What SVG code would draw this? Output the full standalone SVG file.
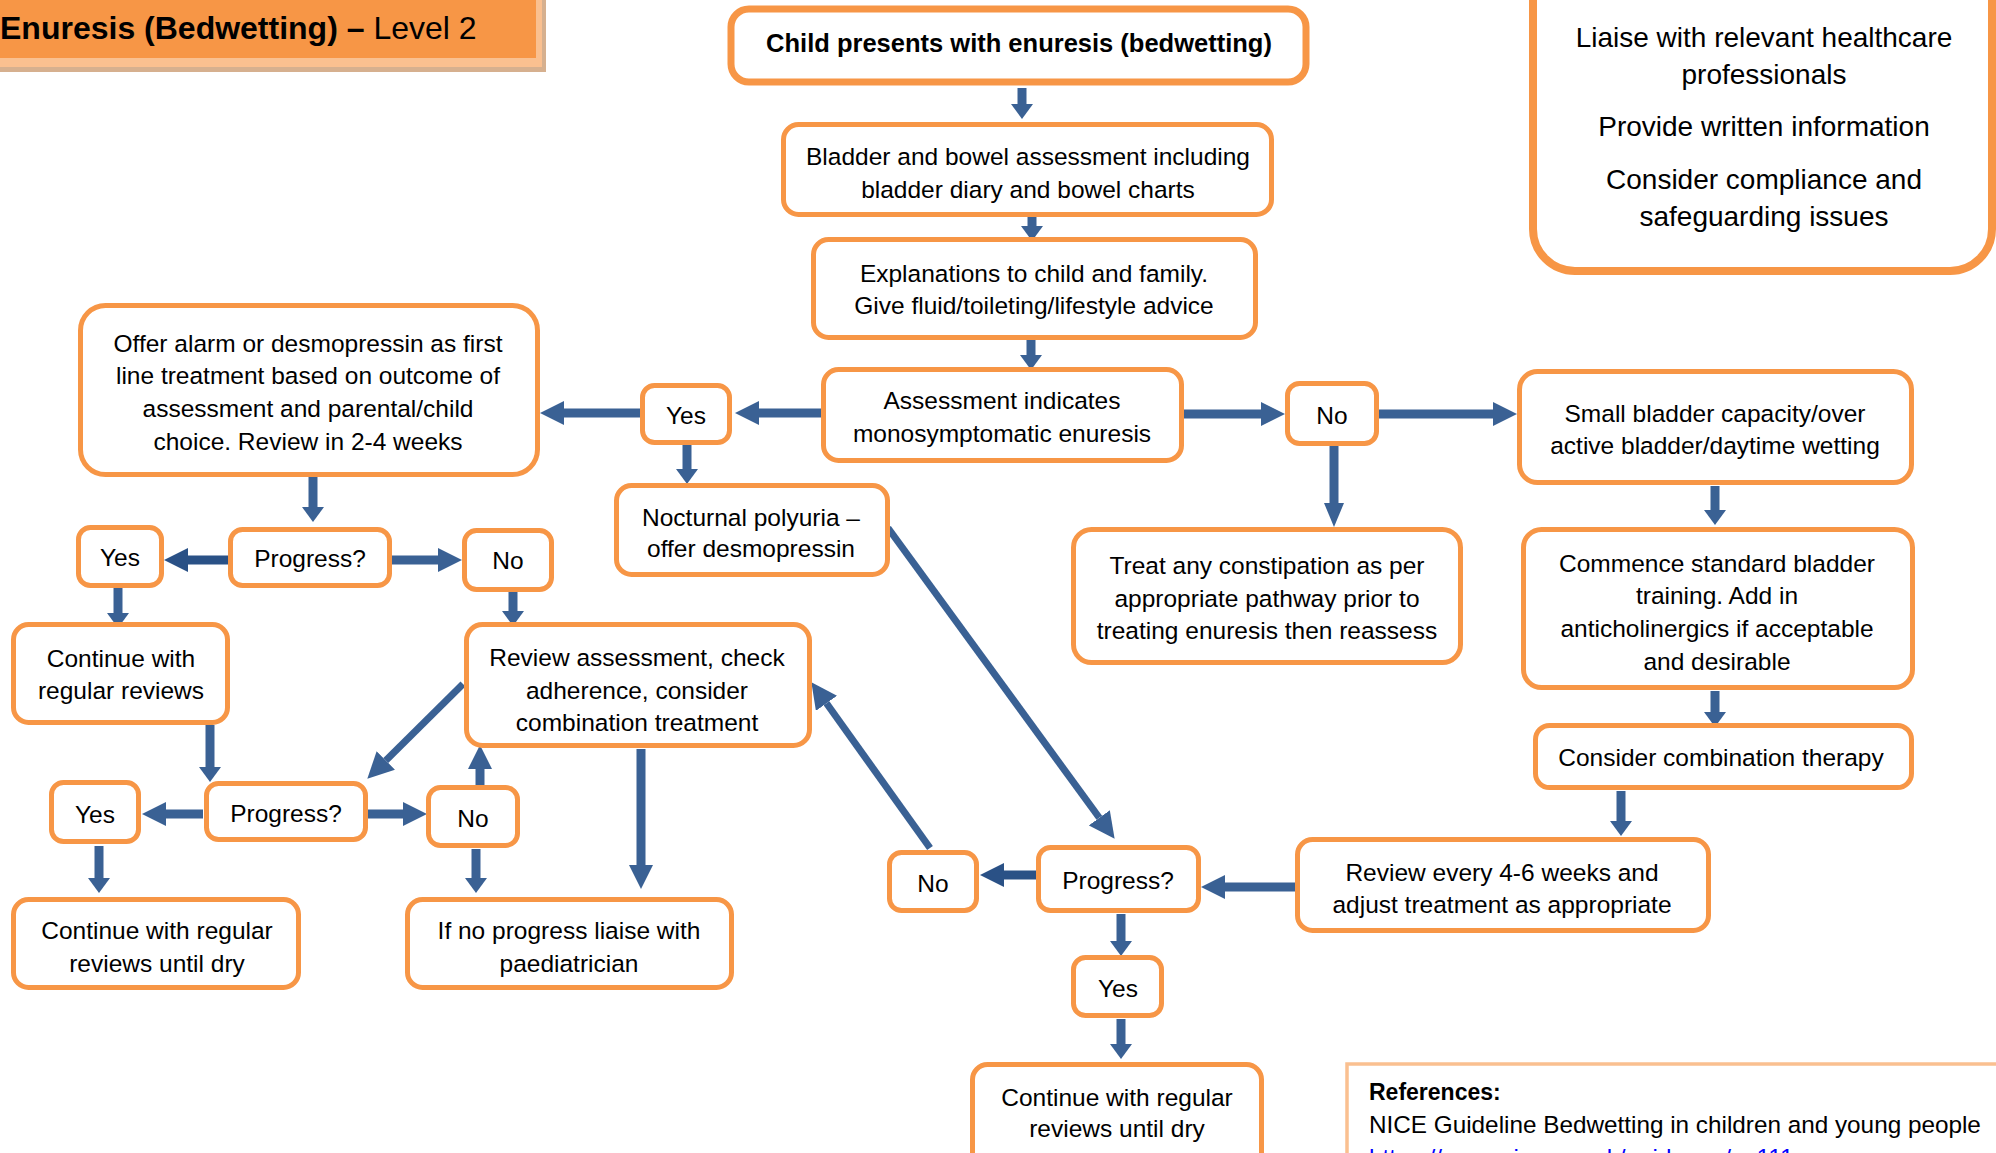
<svg xmlns="http://www.w3.org/2000/svg" width="1996" height="1153" viewBox="0 0 1996 1153">
<style>
.box{fill:#fff;stroke:#F79646;stroke-width:5}
.t{font-family:"Liberation Sans",Arial,sans-serif;font-size:24.5px;fill:#000;text-anchor:middle}
.tb{font-family:"Liberation Sans",Arial,sans-serif;font-size:25.5px;font-weight:bold;fill:#000;text-anchor:middle}
.tn{font-family:"Liberation Sans",Arial,sans-serif;font-size:28px;fill:#000;text-anchor:middle}
.c{fill:none;stroke:#3A6194;stroke-width:9}
.cd{fill:none;stroke:#2A5186;stroke-width:9}
.dg{fill:none;stroke:#3A6194;stroke-width:7}
</style>
<defs>
<marker id="hh" markerUnits="userSpaceOnUse" markerWidth="24" markerHeight="24" refX="0" refY="12" orient="auto"><path d="M0,0 L24,12 L0,24 z" fill="#3A6194"/></marker>
<marker id="hk" markerUnits="userSpaceOnUse" markerWidth="24" markerHeight="24" refX="0" refY="12" orient="auto"><path d="M0,0 L24,12 L0,24 z" fill="#2A5186"/></marker>
<marker id="hv" markerUnits="userSpaceOnUse" markerWidth="15" markerHeight="22" refX="0" refY="11" orient="auto"><path d="M0,0 L15,11 L0,22 z" fill="#3A6194"/></marker>
<marker id="hn" markerUnits="userSpaceOnUse" markerWidth="24" markerHeight="20" refX="0" refY="10" orient="auto"><path d="M0,0 L24,10 L0,20 z" fill="#3A6194"/></marker>
<marker id="hd" markerUnits="userSpaceOnUse" markerWidth="26" markerHeight="26" refX="0" refY="13" orient="auto"><path d="M0,0 L26,13 L0,26 z" fill="#3A6194"/></marker>
</defs>

<g id="title">
<rect x="-10" y="-10" width="556" height="82" fill="#D6B08F"/>
<rect x="-10" y="-10" width="552" height="77" fill="#FAC090"/>
<rect x="-10" y="-10" width="546" height="68" fill="#F79646"/>
<text x="0" y="39" font-family="Liberation Sans,Arial,sans-serif" font-size="32" fill="#000"><tspan font-weight="bold">Enuresis (Bedwetting) –</tspan> Level 2</text>
</g>

<g id="connectors">
<path class="c" d="M1022,88 V104" marker-end="url(#hv)"/>
<path class="c" d="M1032,215 V226" marker-end="url(#hv)"/>
<path class="c" d="M1031,340 V355" marker-end="url(#hv)"/>
<path class="c" d="M821,413 H759" marker-end="url(#hh)"/>
<path class="c" d="M640,413 H564" marker-end="url(#hh)"/>
<path class="c" d="M687,444 V469" marker-end="url(#hv)"/>
<path class="c" d="M1184,414 H1261" marker-end="url(#hh)"/>
<path class="c" d="M1379,414 H1493" marker-end="url(#hh)"/>
<path class="c" d="M1334,446 V503" marker-end="url(#hn)"/>
<path class="c" d="M1715,486 V510" marker-end="url(#hv)"/>
<path class="c" d="M1715,691 V712" marker-end="url(#hv)"/>
<path class="c" d="M1621,791 V821" marker-end="url(#hv)"/>
<path class="c" d="M1295,887 H1225" marker-end="url(#hh)"/>
<path class="cd" d="M1036,875 H1004" marker-end="url(#hk)"/>
<path class="dg" d="M930,848 L826.5,703.3" marker-end="url(#hd)"/>
<path class="dg" d="M888,528 L1099.3,817.8" marker-end="url(#hd)"/>
<path class="c" d="M1121,914 V941" marker-end="url(#hv)"/>
<path class="c" d="M1121,1019 V1044" marker-end="url(#hv)"/>
<path class="c" d="M313,477 V507" marker-end="url(#hv)"/>
<path class="cd" d="M228,560 H188" marker-end="url(#hk)"/>
<path class="c" d="M392,560 H438" marker-end="url(#hh)"/>
<path class="c" d="M118,588 V613" marker-end="url(#hv)"/>
<path class="c" d="M513,592 V611" marker-end="url(#hv)"/>
<path class="c" d="M210,725 V767" marker-end="url(#hv)"/>
<path class="dg" d="M463,684 L385.8,760.4" marker-end="url(#hd)"/>
<path class="c" d="M203,814 H166" marker-end="url(#hh)"/>
<path class="c" d="M368,814 H403" marker-end="url(#hh)"/>
<path class="c" d="M480,785 V769" marker-end="url(#hh)"/>
<path class="c" d="M641,749 V865" marker-end="url(#hh)"/>
<path class="c" d="M99,846 V878" marker-end="url(#hv)"/>
<path class="c" d="M476,849 V878" marker-end="url(#hv)"/>
</g>

<g id="n-start">
<rect x="731" y="9" width="575" height="73" rx="18" fill="#fff" stroke="#F79646" stroke-width="7"/>
<text class="tb" x="1019" y="52">Child presents with enuresis (bedwetting)</text>
</g>

<g id="n-bladder">
<rect class="box" x="783.5" y="124.5" width="488" height="90" rx="15"/>
<text class="t" x="1028" y="165">Bladder and bowel assessment including</text>
<text class="t" x="1028" y="198">bladder diary and bowel charts</text>
</g>

<g id="n-explain">
<rect class="box" x="813.5" y="239.5" width="442" height="98" rx="15"/>
<text class="t" x="1034" y="282">Explanations to child and family.</text>
<text class="t" x="1034" y="314">Give fluid/toileting/lifestyle advice</text>
</g>

<g id="n-assess">
<rect class="box" x="823.5" y="369.5" width="358" height="91" rx="15"/>
<text class="t" x="1002" y="409">Assessment indicates</text>
<text class="t" x="1002" y="442">monosymptomatic enuresis</text>
</g>

<g id="n-yes1">
<rect class="box" x="642.5" y="385.5" width="87" height="57" rx="12"/>
<text class="t" x="686" y="424">Yes</text>
</g>

<g id="n-no1">
<rect class="box" x="1287.5" y="383.5" width="89" height="60" rx="12"/>
<text class="t" x="1332" y="424">No</text>
</g>

<g id="n-offer">
<rect class="box" x="80.5" y="305.5" width="457" height="169" rx="25"/>
<text class="t" x="308" y="352">Offer alarm or desmopressin as first</text>
<text class="t" x="308" y="384">line treatment based on outcome of</text>
<text class="t" x="308" y="417">assessment and parental/child</text>
<text class="t" x="308" y="450">choice. Review in 2-4 weeks</text>
</g>

<g id="n-nocturnal">
<rect class="box" x="616.5" y="485.5" width="271" height="89" rx="15"/>
<text class="t" x="751" y="526">Nocturnal polyuria –</text>
<text class="t" x="751" y="557">offer desmopressin</text>
</g>

<g id="n-small">
<rect class="box" x="1519.5" y="371.5" width="392" height="111" rx="18"/>
<text class="t" x="1715" y="422">Small bladder capacity/over</text>
<text class="t" x="1715" y="454">active bladder/daytime wetting</text>
</g>

<g id="n-treat">
<rect class="box" x="1073.5" y="529.5" width="387" height="133" rx="18"/>
<text class="t" x="1267" y="574">Treat any constipation as per</text>
<text class="t" x="1267" y="606.5">appropriate pathway prior to</text>
<text class="t" x="1267" y="639">treating enuresis then reassess</text>
</g>

<g id="n-commence">
<rect class="box" x="1523.5" y="529.5" width="389" height="158" rx="18"/>
<text class="t" x="1717" y="572">Commence standard bladder</text>
<text class="t" x="1717" y="604">training. Add in</text>
<text class="t" x="1717" y="637">anticholinergics if acceptable</text>
<text class="t" x="1717" y="670">and desirable</text>
</g>

<g id="n-combination">
<rect class="box" x="1535.5" y="725.5" width="376" height="62" rx="14"/>
<text class="t" x="1721" y="766">Consider combination therapy</text>
</g>

<g id="n-review46">
<rect class="box" x="1297.5" y="839.5" width="411" height="91" rx="15"/>
<text class="t" x="1502" y="881">Review every 4-6 weeks and</text>
<text class="t" x="1502" y="913">adjust treatment as appropriate</text>
</g>

<g id="n-progress3">
<rect class="box" x="1038.5" y="847.5" width="160" height="63" rx="12"/>
<text class="t" x="1118" y="889">Progress?</text>
</g>

<g id="n-no4">
<rect class="box" x="889.5" y="852.5" width="87" height="58" rx="12"/>
<text class="t" x="933" y="892">No</text>
</g>

<g id="n-yes4">
<rect class="box" x="1073.5" y="957.5" width="88" height="58" rx="12"/>
<text class="t" x="1118" y="997">Yes</text>
</g>

<g id="n-continue3">
<rect class="box" x="972.5" y="1064.5" width="289" height="110" rx="15"/>
<text class="t" x="1117" y="1106">Continue with regular</text>
<text class="t" x="1117" y="1137">reviews until dry</text>
</g>

<g id="n-progress1">
<rect class="box" x="230.5" y="529.5" width="159" height="56" rx="12"/>
<text class="t" x="310" y="567">Progress?</text>
</g>

<g id="n-yes2">
<rect class="box" x="78.5" y="527.5" width="83" height="58" rx="12"/>
<text class="t" x="120" y="566">Yes</text>
</g>

<g id="n-no2">
<rect class="box" x="464.5" y="530.5" width="87" height="59" rx="12"/>
<text class="t" x="508" y="569">No</text>
</g>

<g id="n-continue1">
<rect class="box" x="13.5" y="624.5" width="214" height="98" rx="15"/>
<text class="t" x="121" y="667">Continue with</text>
<text class="t" x="121" y="699">regular reviews</text>
</g>

<g id="n-reviewassess">
<rect class="box" x="466.5" y="624.5" width="343" height="121" rx="16"/>
<text class="t" x="637" y="666">Review assessment, check</text>
<text class="t" x="637" y="698.5">adherence, consider</text>
<text class="t" x="637" y="731">combination treatment</text>
</g>

<g id="n-progress2">
<rect class="box" x="206.5" y="783.5" width="159" height="56" rx="12"/>
<text class="t" x="286" y="822">Progress?</text>
</g>

<g id="n-yes3">
<rect class="box" x="51.5" y="782.5" width="87" height="59" rx="12"/>
<text class="t" x="95" y="823">Yes</text>
</g>

<g id="n-no3">
<rect class="box" x="428.5" y="787.5" width="89" height="58" rx="12"/>
<text class="t" x="473" y="827">No</text>
</g>

<g id="n-continue2">
<rect class="box" x="13.5" y="899.5" width="285" height="88" rx="15"/>
<text class="t" x="157" y="939">Continue with regular</text>
<text class="t" x="157" y="972">reviews until dry</text>
</g>

<g id="n-paediatrician">
<rect class="box" x="407.5" y="899.5" width="324" height="88" rx="15"/>
<text class="t" x="569" y="939">If no progress liaise with</text>
<text class="t" x="569" y="972">paediatrician</text>
</g>

<g id="n-notes">
<rect x="1533" y="-60" width="459" height="331" rx="42" fill="#fff" stroke="#F79646" stroke-width="8"/>
<text class="tn" x="1764" y="47">Liaise with relevant healthcare</text>
<text class="tn" x="1764" y="84">professionals</text>
<text class="tn" x="1764" y="136">Provide written information</text>
<text class="tn" x="1764" y="189">Consider compliance and</text>
<text class="tn" x="1764" y="226">safeguarding issues</text>
</g>

<g id="n-references">
<rect x="1347" y="1064" width="700" height="200" fill="#fff" stroke="#FAC090" stroke-width="3.5"/>
<text x="1369" y="1100" font-family="Liberation Sans,Arial,sans-serif" font-size="23" font-weight="bold" fill="#000">References:</text>
<text x="1369" y="1133" font-family="Liberation Sans,Arial,sans-serif" font-size="24.3" fill="#000">NICE Guideline Bedwetting in children and young people</text>
<text x="1369" y="1166" font-family="Liberation Sans,Arial,sans-serif" font-size="24.3" fill="#0000FF" text-decoration="underline">https://www.nice.org.uk/guidance/cg111</text>
</g>
</svg>
